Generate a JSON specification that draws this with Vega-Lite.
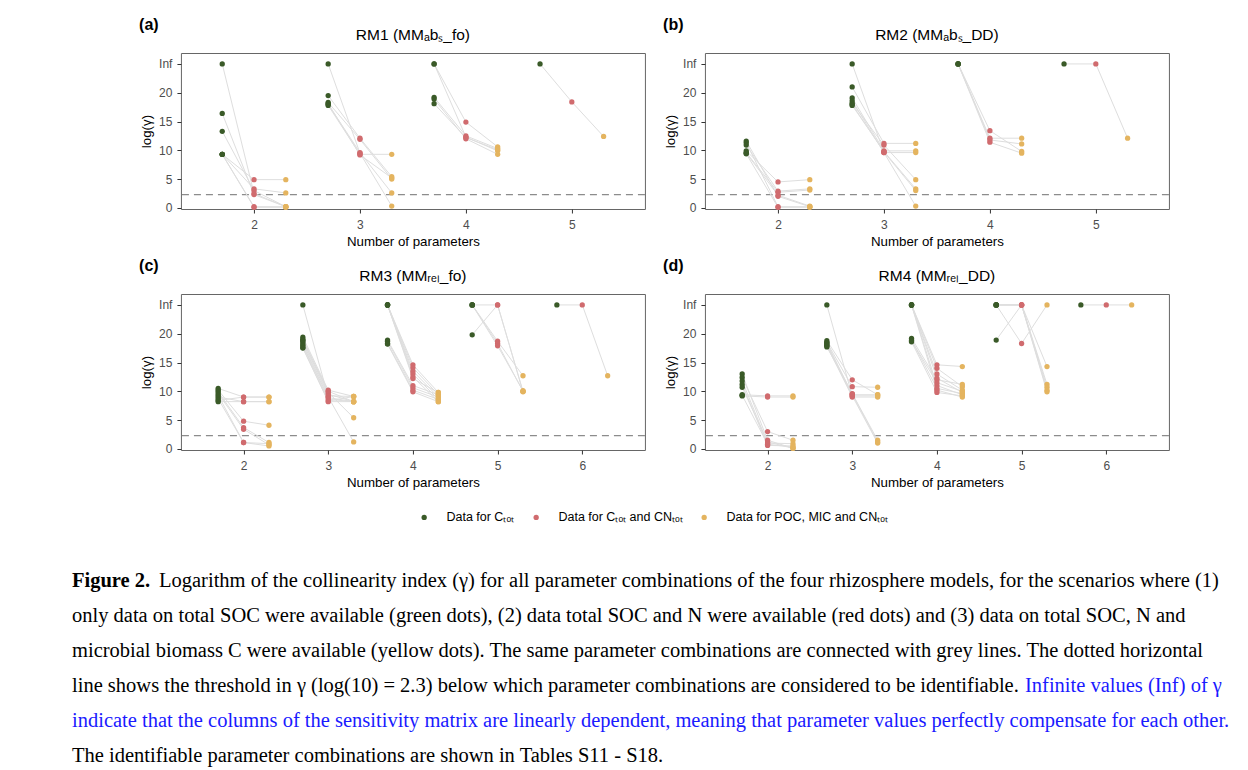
{
  "$schema": "https://vega.github.io/schema/vega-lite/v6.json",
  "padding": {"left": 72, "top": 17, "right": -47, "bottom": 0},
  "background": "white",
  "datasets": {
    "pts": [
      {"p":"a","n":2,"id":1,"g":"Inf","r":2.5,"y":0.2},
      {"p":"a","n":2,"id":2,"g":16.4,"r":2.3,"y":0.2},
      {"p":"a","n":2,"id":3,"g":13.3,"r":3.0,"y":0.2},
      {"p":"a","n":2,"id":4,"g":9.3,"r":4.9,"y":4.9},
      {"p":"a","n":2,"id":5,"g":9.3,"r":3.3,"y":2.6},
      {"p":"a","n":2,"id":6,"g":9.3,"r":0.2,"y":0.2},
      {"p":"a","n":2,"id":7,"g":9.3,"r":0.1,"y":0.1},
      {"p":"a","n":3,"id":8,"g":"Inf","r":9.5,"y":0.3},
      {"p":"a","n":3,"id":9,"g":19.5,"r":12.1,"y":5.4},
      {"p":"a","n":3,"id":10,"g":18.3,"r":11.9,"y":5.0},
      {"p":"a","n":3,"id":11,"g":18.0,"r":9.6,"y":2.6},
      {"p":"a","n":3,"id":12,"g":17.8,"r":9.3,"y":9.3},
      {"p":"a","n":3,"id":13,"g":18.1,"r":9.2,"y":5.2},
      {"p":"a","n":4,"id":14,"g":"Inf","r":14.9,"y":10.6},
      {"p":"a","n":4,"id":15,"g":"Inf","r":12.3,"y":9.9},
      {"p":"a","n":4,"id":16,"g":19.2,"r":12.5,"y":10.3},
      {"p":"a","n":4,"id":17,"g":18.9,"r":12.0,"y":9.3},
      {"p":"a","n":4,"id":18,"g":18.1,"r":12.2,"y":10.1},
      {"p":"a","n":5,"id":19,"g":"Inf","r":18.4,"y":12.4},

      {"p":"b","n":2,"id":1,"g":11.6,"r":2.0,"y":0.2},
      {"p":"b","n":2,"id":2,"g":11.3,"r":0.2,"y":0.2},
      {"p":"b","n":2,"id":3,"g":10.9,"r":2.9,"y":3.3},
      {"p":"b","n":2,"id":4,"g":9.9,"r":4.5,"y":4.9},
      {"p":"b","n":2,"id":5,"g":9.6,"r":2.7,"y":3.1},
      {"p":"b","n":2,"id":6,"g":9.4,"r":0.1,"y":0.1},
      {"p":"b","n":2,"id":7,"g":9.5,"r":2.2,"y":0.3},
      {"p":"b","n":3,"id":8,"g":"Inf","r":9.6,"y":0.3},
      {"p":"b","n":3,"id":9,"g":21.0,"r":11.2,"y":11.2},
      {"p":"b","n":3,"id":10,"g":19.1,"r":9.9,"y":9.9},
      {"p":"b","n":3,"id":11,"g":18.6,"r":9.6,"y":9.6},
      {"p":"b","n":3,"id":12,"g":18.2,"r":10.9,"y":4.9},
      {"p":"b","n":3,"id":13,"g":17.8,"r":9.8,"y":3.3},
      {"p":"b","n":3,"id":14,"g":18.0,"r":9.7,"y":3.0},
      {"p":"b","n":4,"id":15,"g":"Inf","r":13.4,"y":9.8},
      {"p":"b","n":4,"id":16,"g":"Inf","r":12.1,"y":12.1},
      {"p":"b","n":4,"id":17,"g":"Inf","r":11.8,"y":11.1},
      {"p":"b","n":4,"id":18,"g":"Inf","r":11.4,"y":9.5},
      {"p":"b","n":5,"id":19,"g":"Inf","r":"Inf","y":12.1},

      {"p":"c","n":2,"id":1,"g":10.5,"r":9.0,"y":9.0},
      {"p":"c","n":2,"id":2,"g":10.2,"r":4.8,"y":4.1},
      {"p":"c","n":2,"id":3,"g":9.9,"r":3.7,"y":1.1},
      {"p":"c","n":2,"id":4,"g":9.6,"r":3.4,"y":0.7},
      {"p":"c","n":2,"id":5,"g":9.3,"r":1.1,"y":0.5},
      {"p":"c","n":2,"id":6,"g":9.0,"r":8.2,"y":8.2},
      {"p":"c","n":2,"id":7,"g":8.7,"r":1.1,"y":0.9},
      {"p":"c","n":2,"id":8,"g":8.4,"r":9.0,"y":9.0},
      {"p":"c","n":2,"id":9,"g":8.2,"r":8.2,"y":8.2},
      {"p":"c","n":3,"id":10,"g":"Inf","r":9.0,"y":1.2},
      {"p":"c","n":3,"id":11,"g":19.4,"r":10.2,"y":9.1},
      {"p":"c","n":3,"id":12,"g":19.0,"r":9.8,"y":5.4},
      {"p":"c","n":3,"id":13,"g":18.7,"r":9.5,"y":8.2},
      {"p":"c","n":3,"id":14,"g":18.4,"r":9.2,"y":9.1},
      {"p":"c","n":3,"id":15,"g":18.1,"r":8.9,"y":8.2},
      {"p":"c","n":3,"id":16,"g":17.9,"r":8.6,"y":8.2},
      {"p":"c","n":3,"id":17,"g":17.6,"r":8.3,"y":9.1},
      {"p":"c","n":3,"id":18,"g":18.9,"r":10.0,"y":8.2},
      {"p":"c","n":3,"id":19,"g":17.5,"r":8.2,"y":8.2},
      {"p":"c","n":4,"id":20,"g":"Inf","r":14.6,"y":9.8},
      {"p":"c","n":4,"id":21,"g":"Inf","r":14.1,"y":9.4},
      {"p":"c","n":4,"id":22,"g":"Inf","r":13.5,"y":9.0},
      {"p":"c","n":4,"id":23,"g":"Inf","r":13.0,"y":8.6},
      {"p":"c","n":4,"id":24,"g":"Inf","r":12.5,"y":8.2},
      {"p":"c","n":4,"id":25,"g":"Inf","r":12.2,"y":9.8},
      {"p":"c","n":4,"id":26,"g":18.9,"r":11.0,"y":9.4},
      {"p":"c","n":4,"id":27,"g":18.7,"r":10.6,"y":9.0},
      {"p":"c","n":4,"id":28,"g":18.3,"r":10.2,"y":8.6},
      {"p":"c","n":4,"id":29,"g":18.2,"r":9.9,"y":8.2},
      {"p":"c","n":5,"id":30,"g":"Inf","r":"Inf","y":10.0},
      {"p":"c","n":5,"id":31,"g":19.8,"r":"Inf","y":9.9},
      {"p":"c","n":5,"id":32,"g":"Inf","r":18.7,"y":12.7},
      {"p":"c","n":5,"id":33,"g":"Inf","r":18.3,"y":10.0},
      {"p":"c","n":5,"id":34,"g":"Inf","r":17.9,"y":10.1},
      {"p":"c","n":6,"id":35,"g":"Inf","r":"Inf","y":12.7},

      {"p":"d","n":2,"id":1,"g":13.0,"r":1.5,"y":0.1},
      {"p":"d","n":2,"id":2,"g":12.4,"r":3.0,"y":1.5},
      {"p":"d","n":2,"id":3,"g":11.8,"r":1.0,"y":0.9},
      {"p":"d","n":2,"id":4,"g":11.2,"r":0.6,"y":0.5},
      {"p":"d","n":2,"id":5,"g":10.7,"r":1.2,"y":0.1},
      {"p":"d","n":2,"id":6,"g":9.4,"r":9.2,"y":9.2},
      {"p":"d","n":2,"id":7,"g":9.2,"r":9.0,"y":9.0},
      {"p":"d","n":2,"id":8,"g":9.3,"r":0.8,"y":0.3},
      {"p":"d","n":3,"id":9,"g":"Inf","r":9.2,"y":1.0},
      {"p":"d","n":3,"id":10,"g":18.8,"r":12.0,"y":9.4},
      {"p":"d","n":3,"id":11,"g":18.5,"r":10.8,"y":10.7},
      {"p":"d","n":3,"id":12,"g":18.2,"r":9.4,"y":9.4},
      {"p":"d","n":3,"id":13,"g":18.0,"r":9.0,"y":9.0},
      {"p":"d","n":3,"id":14,"g":17.7,"r":9.6,"y":1.5},
      {"p":"d","n":3,"id":15,"g":17.9,"r":9.2,"y":9.2},
      {"p":"d","n":3,"id":16,"g":18.4,"r":9.5,"y":1.2},
      {"p":"d","n":4,"id":17,"g":"Inf","r":14.6,"y":14.3},
      {"p":"d","n":4,"id":18,"g":"Inf","r":14.0,"y":10.8},
      {"p":"d","n":4,"id":19,"g":"Inf","r":13.0,"y":10.2},
      {"p":"d","n":4,"id":20,"g":"Inf","r":12.3,"y":9.8},
      {"p":"d","n":4,"id":21,"g":"Inf","r":11.0,"y":9.4},
      {"p":"d","n":4,"id":22,"g":"Inf","r":10.2,"y":9.0},
      {"p":"d","n":4,"id":23,"g":19.2,"r":12.0,"y":11.2},
      {"p":"d","n":4,"id":24,"g":18.9,"r":10.5,"y":9.6},
      {"p":"d","n":4,"id":25,"g":18.6,"r":9.8,"y":9.2},
      {"p":"d","n":4,"id":26,"g":18.8,"r":11.5,"y":10.0},
      {"p":"d","n":5,"id":27,"g":"Inf","r":"Inf","y":14.3},
      {"p":"d","n":5,"id":28,"g":18.9,"r":"Inf","y":11.2},
      {"p":"d","n":5,"id":29,"g":"Inf","r":18.3,"y":"Inf"},
      {"p":"d","n":5,"id":30,"g":"Inf","r":"Inf","y":10.7},
      {"p":"d","n":5,"id":31,"g":"Inf","r":"Inf","y":10.2},
      {"p":"d","n":5,"id":32,"g":"Inf","r":"Inf","y":9.9},
      {"p":"d","n":6,"id":33,"g":"Inf","r":"Inf","y":"Inf"}
    ]
  },
  "data": {"name": "pts"},
  "center": true,
  "spacing": 39,
  "resolve": {"scale": {"color": "independent"}},
  "vconcat": [
    {
      "spacing": 10,
      "vconcat": [
        {
          "spacing": 16,
          "hconcat": [
            {
              "title": {"text": "(a)", "anchor": "start", "frame": "bounds", "fontWeight": "bold", "fontSize": 16, "offset": -6},
              "vconcat": [{
                "title": {"text": "RM1 (MMₐbₛ_fo)", "anchor": "middle", "frame": "group", "fontWeight": "normal", "fontSize": 15.5, "offset": 10},
                "width": 464, "height": 156,
                "layer": [
                  {"data": {"values": [{}]}, "mark": {"type": "rule", "color": "#8c8c8c", "strokeWidth": 1.3, "strokeDash": [7, 5]}, "encoding": {"y": {"datum": 2.3, "type": "quantitative", "scale": {"domain": [-0.2, 26.9], "nice": false, "zero": false}, "axis": {"values": [0, 5, 10, 15, 20, 25], "labelOverlap": false, "labelExpr": "datum.value === 25 ? 'Inf' : datum.label", "title": "log(γ)"}}}},
                  {
                    "transform": [
                      {"filter": "datum.p === 'a'"},
                      {"fold": ["g", "r", "y"], "as": ["s", "raw"]},
                      {"calculate": "datum.raw === 'Inf' ? 25 : datum.raw", "as": "val"},
                      {"calculate": "datum.n + (datum.s === 'g' ? -0.3 : (datum.s === 'y' ? 0.3 : 0))", "as": "xp"}
                    ],
                    "encoding": {
                      "x": {"field": "xp", "type": "quantitative", "scale": {"domain": [1.31, 5.69], "nice": false, "zero": false}, "axis": {"values": [2, 3, 4, 5], "title": "Number of parameters"}},
                      "y": {"field": "val", "type": "quantitative", "scale": {"domain": [-0.2, 26.9], "nice": false, "zero": false}, "axis": {"values": [0, 5, 10, 15, 20, 25], "labelOverlap": false, "labelExpr": "datum.value === 25 ? 'Inf' : datum.label", "title": "log(γ)"}}
                    },
                    "layer": [
                      {"mark": {"type": "line", "color": "#dedede", "strokeWidth": 1}, "encoding": {"detail": {"field": "id", "type": "nominal"}}},
                      {"mark": {"type": "circle", "size": 28, "opacity": 1}, "encoding": {"color": {"field": "s", "type": "nominal", "scale": {"domain": ["g", "r", "y"], "range": ["#3a5a28", "#d06b6e", "#e4b45f"]}, "legend": {"labelExpr": "datum.label === 'g' ? 'Data for Cₜₒₜ' : (datum.label === 'r' ? 'Data for Cₜₒₜ and CNₜₒₜ' : 'Data for POC, MIC and CNₜₒₜ')"}}}}
                    ]
                  }
                ]
              }]
            },
            {
              "title": {"text": "(b)", "anchor": "start", "frame": "bounds", "fontWeight": "bold", "fontSize": 16, "offset": -6},
              "vconcat": [{
                "title": {"text": "RM2 (MMₐbₛ_DD)", "anchor": "middle", "frame": "group", "fontWeight": "normal", "fontSize": 15.5, "offset": 10},
                "width": 464, "height": 156,
                "layer": [
                  {"data": {"values": [{}]}, "mark": {"type": "rule", "color": "#8c8c8c", "strokeWidth": 1.3, "strokeDash": [7, 5]}, "encoding": {"y": {"datum": 2.3, "type": "quantitative", "scale": {"domain": [-0.2, 26.9], "nice": false, "zero": false}, "axis": {"values": [0, 5, 10, 15, 20, 25], "labelOverlap": false, "labelExpr": "datum.value === 25 ? 'Inf' : datum.label", "title": "log(γ)"}}}},
                  {
                    "transform": [
                      {"filter": "datum.p === 'b'"},
                      {"fold": ["g", "r", "y"], "as": ["s", "raw"]},
                      {"calculate": "datum.raw === 'Inf' ? 25 : datum.raw", "as": "val"},
                      {"calculate": "datum.n + (datum.s === 'g' ? -0.3 : (datum.s === 'y' ? 0.3 : 0))", "as": "xp"}
                    ],
                    "encoding": {
                      "x": {"field": "xp", "type": "quantitative", "scale": {"domain": [1.31, 5.69], "nice": false, "zero": false}, "axis": {"values": [2, 3, 4, 5], "title": "Number of parameters"}},
                      "y": {"field": "val", "type": "quantitative", "scale": {"domain": [-0.2, 26.9], "nice": false, "zero": false}, "axis": {"values": [0, 5, 10, 15, 20, 25], "labelOverlap": false, "labelExpr": "datum.value === 25 ? 'Inf' : datum.label", "title": "log(γ)"}}
                    },
                    "layer": [
                      {"mark": {"type": "line", "color": "#dedede", "strokeWidth": 1}, "encoding": {"detail": {"field": "id", "type": "nominal"}}},
                      {"mark": {"type": "circle", "size": 28, "opacity": 1}, "encoding": {"color": {"field": "s", "type": "nominal", "scale": {"domain": ["g", "r", "y"], "range": ["#3a5a28", "#d06b6e", "#e4b45f"]}, "legend": {"labelExpr": "datum.label === 'g' ? 'Data for Cₜₒₜ' : (datum.label === 'r' ? 'Data for Cₜₒₜ and CNₜₒₜ' : 'Data for POC, MIC and CNₜₒₜ')"}}}}
                    ]
                  }
                ]
              }]
            }
          ]
        },
        {
          "spacing": 16,
          "hconcat": [
            {
              "title": {"text": "(c)", "anchor": "start", "frame": "bounds", "fontWeight": "bold", "fontSize": 16, "offset": -6},
              "vconcat": [{
                "title": {"text": "RM3 (MMᵣₑₗ_fo)", "anchor": "middle", "frame": "group", "fontWeight": "normal", "fontSize": 15.5, "offset": 10},
                "width": 464, "height": 156,
                "layer": [
                  {"data": {"values": [{}]}, "mark": {"type": "rule", "color": "#8c8c8c", "strokeWidth": 1.3, "strokeDash": [7, 5]}, "encoding": {"y": {"datum": 2.3, "type": "quantitative", "scale": {"domain": [-0.2, 26.9], "nice": false, "zero": false}, "axis": {"values": [0, 5, 10, 15, 20, 25], "labelOverlap": false, "labelExpr": "datum.value === 25 ? 'Inf' : datum.label", "title": "log(γ)"}}}},
                  {
                    "transform": [
                      {"filter": "datum.p === 'c'"},
                      {"fold": ["g", "r", "y"], "as": ["s", "raw"]},
                      {"calculate": "datum.raw === 'Inf' ? 25 : datum.raw", "as": "val"},
                      {"calculate": "datum.n + (datum.s === 'g' ? -0.3 : (datum.s === 'y' ? 0.3 : 0))", "as": "xp"}
                    ],
                    "encoding": {
                      "x": {"field": "xp", "type": "quantitative", "scale": {"domain": [1.26, 6.74], "nice": false, "zero": false}, "axis": {"values": [2, 3, 4, 5, 6], "title": "Number of parameters"}},
                      "y": {"field": "val", "type": "quantitative", "scale": {"domain": [-0.2, 26.9], "nice": false, "zero": false}, "axis": {"values": [0, 5, 10, 15, 20, 25], "labelOverlap": false, "labelExpr": "datum.value === 25 ? 'Inf' : datum.label", "title": "log(γ)"}}
                    },
                    "layer": [
                      {"mark": {"type": "line", "color": "#dedede", "strokeWidth": 1}, "encoding": {"detail": {"field": "id", "type": "nominal"}}},
                      {"mark": {"type": "circle", "size": 28, "opacity": 1}, "encoding": {"color": {"field": "s", "type": "nominal", "scale": {"domain": ["g", "r", "y"], "range": ["#3a5a28", "#d06b6e", "#e4b45f"]}, "legend": {"labelExpr": "datum.label === 'g' ? 'Data for Cₜₒₜ' : (datum.label === 'r' ? 'Data for Cₜₒₜ and CNₜₒₜ' : 'Data for POC, MIC and CNₜₒₜ')"}}}}
                    ]
                  }
                ]
              }]
            },
            {
              "title": {"text": "(d)", "anchor": "start", "frame": "bounds", "fontWeight": "bold", "fontSize": 16, "offset": -6},
              "vconcat": [{
                "title": {"text": "RM4 (MMᵣₑₗ_DD)", "anchor": "middle", "frame": "group", "fontWeight": "normal", "fontSize": 15.5, "offset": 10},
                "width": 464, "height": 156,
                "layer": [
                  {"data": {"values": [{}]}, "mark": {"type": "rule", "color": "#8c8c8c", "strokeWidth": 1.3, "strokeDash": [7, 5]}, "encoding": {"y": {"datum": 2.3, "type": "quantitative", "scale": {"domain": [-0.2, 26.9], "nice": false, "zero": false}, "axis": {"values": [0, 5, 10, 15, 20, 25], "labelOverlap": false, "labelExpr": "datum.value === 25 ? 'Inf' : datum.label", "title": "log(γ)"}}}},
                  {
                    "transform": [
                      {"filter": "datum.p === 'd'"},
                      {"fold": ["g", "r", "y"], "as": ["s", "raw"]},
                      {"calculate": "datum.raw === 'Inf' ? 25 : datum.raw", "as": "val"},
                      {"calculate": "datum.n + (datum.s === 'g' ? -0.3 : (datum.s === 'y' ? 0.3 : 0))", "as": "xp"}
                    ],
                    "encoding": {
                      "x": {"field": "xp", "type": "quantitative", "scale": {"domain": [1.26, 6.74], "nice": false, "zero": false}, "axis": {"values": [2, 3, 4, 5, 6], "title": "Number of parameters"}},
                      "y": {"field": "val", "type": "quantitative", "scale": {"domain": [-0.2, 26.9], "nice": false, "zero": false}, "axis": {"values": [0, 5, 10, 15, 20, 25], "labelOverlap": false, "labelExpr": "datum.value === 25 ? 'Inf' : datum.label", "title": "log(γ)"}}
                    },
                    "layer": [
                      {"mark": {"type": "line", "color": "#dedede", "strokeWidth": 1}, "encoding": {"detail": {"field": "id", "type": "nominal"}}},
                      {"mark": {"type": "circle", "size": 28, "opacity": 1}, "encoding": {"color": {"field": "s", "type": "nominal", "scale": {"domain": ["g", "r", "y"], "range": ["#3a5a28", "#d06b6e", "#e4b45f"]}, "legend": {"labelExpr": "datum.label === 'g' ? 'Data for Cₜₒₜ' : (datum.label === 'r' ? 'Data for Cₜₒₜ and CNₜₒₜ' : 'Data for POC, MIC and CNₜₒₜ')"}}}}
                    ]
                  }
                ]
              }]
            }
          ]
        }
      ]
    },
    {
      "width": 1207, "height": 210,
      "view": {"stroke": null},
      "data": {"values": [
        {"line": 1, "part": "bold", "text": "Figure 2."},
        {"line": 1, "part": "rest", "text": "Logarithm of the collinearity index (γ) for all parameter combinations of the four rhizosphere models, for the scenarios where (1)"},
        {"line": 2, "part": "black", "text": "only data on total SOC were available (green dots), (2) data total SOC and N were available (red dots) and (3) data on total SOC, N and"},
        {"line": 3, "part": "black", "text": "microbial biomass C were available (yellow dots). The same parameter combinations are connected with grey lines. The dotted horizontal"},
        {"line": 4, "part": "black", "text": "line shows the threshold in γ (log(10) = 2.3) below which parameter combinations are considered to be identifiable."},
        {"line": 4, "part": "blue4", "text": "Infinite values (Inf) of γ"},
        {"line": 5, "part": "blue", "text": "indicate that the columns of the sensitivity matrix are linearly dependent, meaning that parameter values perfectly compensate for each other."},
        {"line": 6, "part": "black", "text": "The identifiable parameter combinations are shown in Tables S11 - S18."}
      ]},
      "encoding": {
        "y": {"field": "line", "type": "ordinal", "axis": null},
        "x": {"datum": 0, "type": "quantitative", "scale": {"domain": [0, 1]}, "axis": null},
        "text": {"field": "text", "type": "nominal"}
      },
      "layer": [
        {"transform": [{"filter": "datum.part === 'bold'"}], "mark": {"type": "text", "align": "left", "baseline": "middle", "font": "Liberation Serif", "fontSize": 20.5, "fontWeight": "bold", "color": "#000000"}},
        {"transform": [{"filter": "datum.part === 'rest'"}], "mark": {"type": "text", "align": "left", "baseline": "middle", "font": "Liberation Serif", "fontSize": 20.5, "color": "#000000", "dx": 87}},
        {"transform": [{"filter": "datum.part === 'black'"}], "mark": {"type": "text", "align": "left", "baseline": "middle", "font": "Liberation Serif", "fontSize": 20.5, "color": "#000000"}},
        {"transform": [{"filter": "datum.part === 'blue4'"}], "mark": {"type": "text", "align": "left", "baseline": "middle", "font": "Liberation Serif", "fontSize": 20.5, "color": "#1a1aff", "dx": 953}},
        {"transform": [{"filter": "datum.part === 'blue'"}], "mark": {"type": "text", "align": "left", "baseline": "middle", "font": "Liberation Serif", "fontSize": 20.5, "color": "#1a1aff"}}
      ]
    }
  ],
  "config": {
    "font": "Liberation Sans",
    "view": {"stroke": "#666666", "strokeWidth": 1},
    "title": {"color": "#000000", "font": "Liberation Sans"},
    "axis": {
      "grid": false, "domain": false, "labelOverlap": false,
      "tickColor": "#333333", "tickSize": 4, "tickWidth": 1,
      "labelColor": "#4d4d4d", "labelFontSize": 12, "labelPadding": 5, "labelFont": "Liberation Sans",
      "titleColor": "#000000", "titleFontSize": 13.3, "titleFontWeight": "normal", "titlePadding": 5, "titleFont": "Liberation Sans"
    },
    "axisX": {"labelPadding": 6, "titlePadding": 4},
    "legend": {
      "orient": "none", "legendX": 237, "legendY": 458, "direction": "horizontal", "title": null,
      "labelFontSize": 12.5, "labelColor": "#000000", "labelFont": "Liberation Sans", "labelLimit": 0,
      "symbolSize": 28, "symbolType": "circle", "labelOffset": 16, "columnPadding": 15
    }
  }
}
